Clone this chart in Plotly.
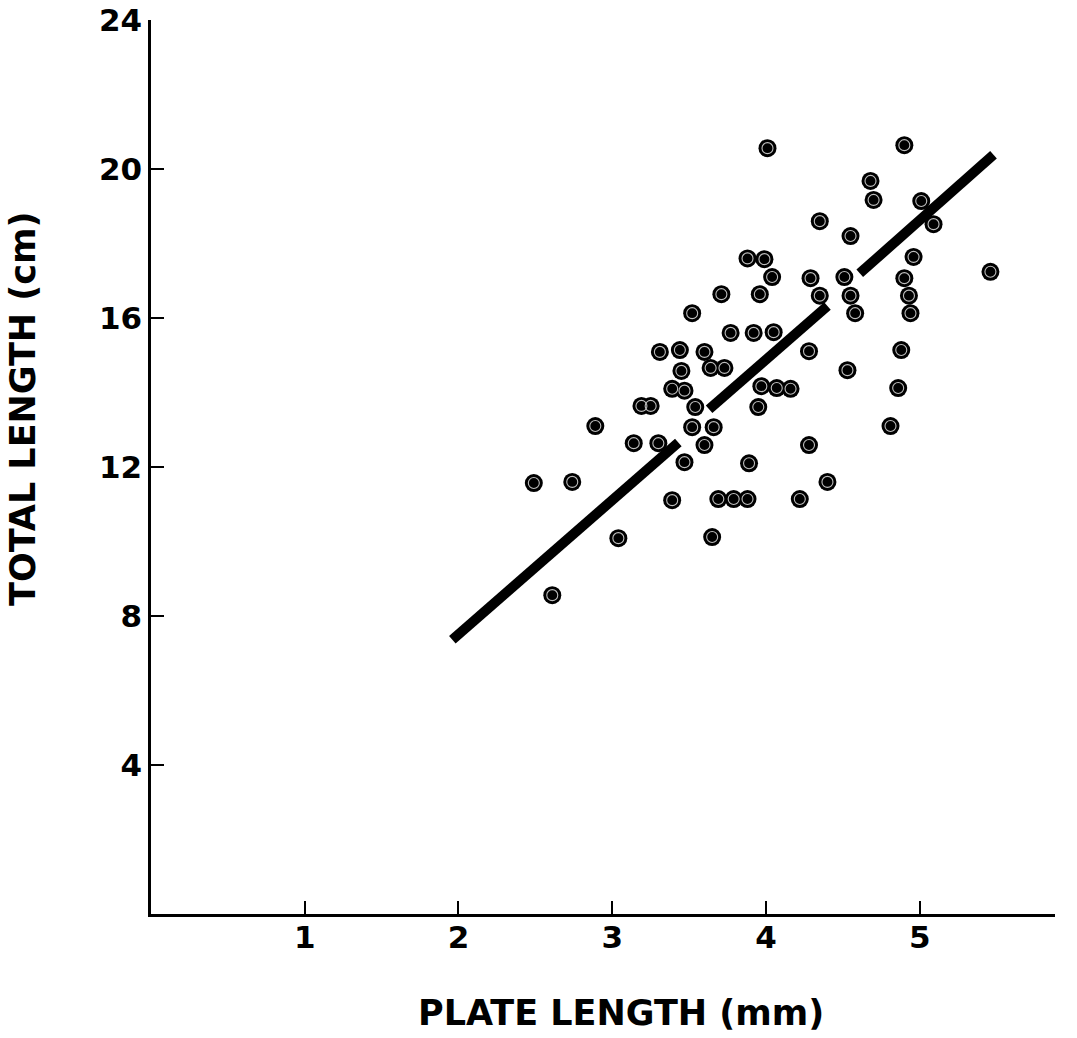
import plotly.graph_objects as go

# Plate length (mm) and total length (cm) of individual specimens
plate_length = [2.49, 2.61, 2.74, 2.89, 3.04, 3.14, 3.19, 3.25, 3.30, 3.31,
                3.39, 3.47, 3.39, 3.44, 3.45, 3.47, 3.52, 3.52, 3.54, 3.60,
                3.60, 3.64, 3.73, 3.66, 3.65, 3.71, 3.69, 3.79, 3.88, 3.77,
                3.88, 3.99, 3.92, 3.89, 3.96, 3.95, 3.97, 4.07, 4.16, 4.04,
                4.05, 4.01, 4.22, 4.28, 4.28, 4.29, 4.35, 4.35, 4.40, 4.51,
                4.53, 4.55, 4.55, 4.58, 4.68, 4.70, 4.81, 4.86, 4.88, 4.90,
                4.93, 4.94, 4.96, 4.90, 5.01, 5.09, 5.46]
total_length = [11.57, 8.56, 11.60, 13.10, 10.09, 12.64, 13.64, 13.64, 12.64, 15.09,
                14.10, 14.05, 11.11, 15.14, 14.58, 12.13, 16.13, 13.07, 13.61, 15.09,
                12.59, 14.66, 14.66, 13.07, 10.12, 16.64, 11.14, 11.14, 11.14, 15.60,
                17.60, 17.58, 15.60, 12.10, 16.64, 13.61, 14.17, 14.12, 14.10, 17.10,
                15.62, 20.56, 11.14, 12.59, 15.11, 17.07, 18.60, 16.60, 11.60, 17.10,
                14.60, 16.60, 18.20, 16.13, 19.68, 19.17, 13.10, 14.12, 15.14, 17.07,
                16.60, 16.13, 17.64, 20.64, 19.14, 18.52, 17.24]

# Fitted regression segments
seg1_x = [1.96, 3.43]
seg1_y = [7.36, 12.66]
seg2_x = [3.63, 4.40]
seg2_y = [13.55, 16.32]
seg3_x = [4.61, 5.48]
seg3_y = [17.20, 20.38]

x_ticks = [1, 2, 3, 4, 5]
y_ticks = [4, 8, 12, 16, 20, 24]

FONT = "DejaVu Sans"

fig = go.Figure()

for sx, sy in [(seg1_x, seg1_y), (seg2_x, seg2_y), (seg3_x, seg3_y)]:
    fig.add_trace(go.Scatter(x=sx, y=sy, mode="lines",
                             line=dict(color="black", width=10),
                             hoverinfo="skip", showlegend=False))

fig.add_trace(go.Scatter(x=plate_length, y=total_length, mode="markers",
                         marker=dict(size=18, color="black", line=dict(width=0)),
                         showlegend=False))
fig.add_trace(go.Scatter(x=plate_length, y=total_length, mode="markers",
                         marker=dict(size=11, symbol="circle-open", color="#bdbdbd",
                                     line=dict(width=1.1, color="#bdbdbd")),
                         hoverinfo="skip", showlegend=False))

axis_common = dict(showline=True, linecolor="black", linewidth=2.5,
                   ticks="inside", ticklen=13, tickwidth=2, tickcolor="black",
                   showgrid=False, zeroline=False, mirror=False, automargin=False,
                   tickfont=dict(family=FONT, size=31, color="black", weight="bold"))

fig.update_xaxes(range=[0, 5.88], tickmode="array", tickvals=x_ticks,
                 ticktext=[str(v) for v in x_ticks], ticklabelstandoff=-6,
                 **axis_common)
fig.update_yaxes(range=[0, 24], tickmode="array", tickvals=y_ticks,
                 ticktext=[str(v) for v in y_ticks], **axis_common)

fig.add_annotation(text="PLATE LENGTH (mm)", xref="paper", yref="paper",
                   x=0.52, y=-0.111, xanchor="center", yanchor="middle",
                   showarrow=False,
                   font=dict(family=FONT, size=35, color="black", weight="bold"))
fig.add_annotation(text="TOTAL LENGTH (cm)", xref="paper", yref="paper",
                   x=-0.1416, y=0.566, xanchor="center", yanchor="middle",
                   textangle=-90, showarrow=False,
                   font=dict(family=FONT, size=35, color="black", weight="bold"))

fig.update_layout(width=1077, height=1038,
                  margin=dict(l=151, r=22, t=20, b=124, autoexpand=False),
                  paper_bgcolor="white", plot_bgcolor="white")

fig.write_html("out.html", config={"displayModeBar": False},
               post_script="document.body.style.margin='0px';document.body.style.overflow='hidden';")
